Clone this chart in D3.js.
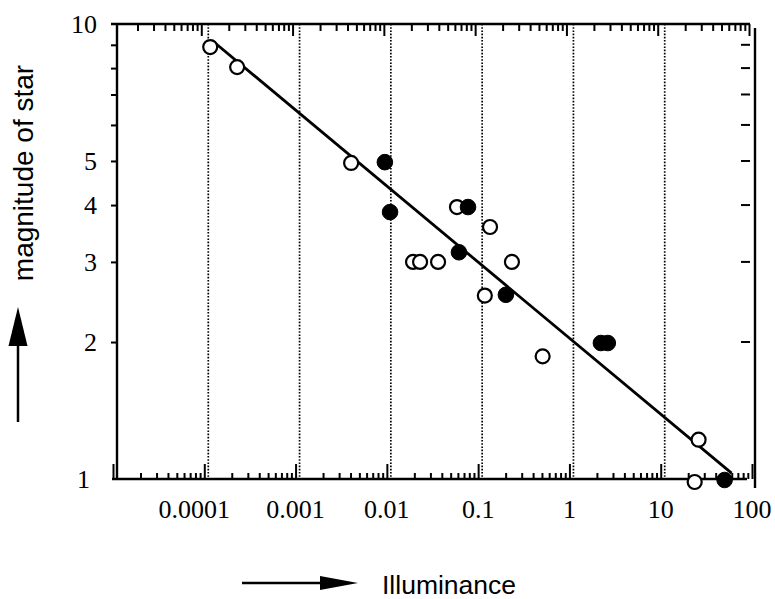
<!DOCTYPE html>
<html>
<head>
<meta charset="utf-8">
<script src="https://cdn.jsdelivr.net/npm/d3@7"></script>
<style>
  html, body { margin: 0; padding: 0; background: #fff; }
  svg { display: block; }
</style>
</head>
<body>
<svg id="chart" width="775" height="599"></svg>
<script>
// ---- data ----
const openX = [0.000105, 0.000207, 0.00367, 0.053, 0.122, 0.0175, 0.0209, 0.0329, 0.212, 0.107, 0.46, 23.5, 21.3];
const openY = [8.9, 8.04, 4.95, 3.96, 3.58, 3.0, 3.0, 3.0, 3.0, 2.53, 1.86, 1.22, 0.985];
const filledX = [0.0086, 0.0098, 0.070, 0.0557, 0.182, 2.0, 2.38, 45.3];
const filledY = [4.97, 3.86, 3.96, 3.15, 2.54, 1.99, 1.99, 0.995];
const fitX = [0.00011, 54];
const fitY = [9.2, 1.03];
const xTickValues = [0.0001, 0.001, 0.01, 0.1, 1, 10, 100];
const xTickLabels = ["0.0001", "0.001", "0.01", "0.1", "1", "10", "100"];
const yTickValues = [1, 2, 3, 4, 5, 10];
const yTickLabels = ["1", "2", "3", "4", "5", "10"];
const gridValues = [0.0001, 0.001, 0.01, 0.1, 1, 10];
const xTitle = "Illuminance";
const yTitle = "magnitude of star";

// ---- layout ----
const L = 117, R = 756, T = 24, B = 479;
const svg = d3.select("#chart");
const x = d3.scaleLog().domain([1e-5, 100]).range([L, R]);
const y = d3.scaleLog().domain([1, 10]).range([B, T]);

const minorX = [];
for (let d = -5; d <= 1; d++) for (let k = 2; k <= 9; k++) minorX.push(k * Math.pow(10, d));
const majorX = [];
for (let d = -5; d <= 2; d++) majorX.push(Math.pow(10, d));
const minorY = [2, 3, 4, 5, 6, 7, 8, 9];

function styleAxis(g) {
  g.select(".domain").remove();
  g.selectAll(".tick line").attr("stroke", "#000").attr("stroke-width", 2);
  g.selectAll(".tick text").remove();
}

// dotted gridlines
svg.append("g").selectAll("line").data(gridValues).join("line")
  .attr("x1", d => x(d)).attr("x2", d => x(d))
  .attr("y1", T).attr("y2", B)
  .attr("stroke", "#000").attr("stroke-width", 1.7)
  .attr("stroke-dasharray", "1.6,1.6");

// frame lines
const frame = svg.append("g").attr("stroke", "#000").attr("stroke-width", 2.4);
frame.append("line").attr("x1", L).attr("x2", L).attr("y1", T).attr("y2", B);
frame.append("line").attr("x1", L - 6).attr("x2", R - 6).attr("y1", T).attr("y2", T);
frame.append("line").attr("x1", L - 5).attr("x2", R - 9).attr("y1", B).attr("y2", B);
frame.append("line").attr("x1", R - 1).attr("x2", R - 1).attr("y1", T + 4).attr("y2", B + 9);

// bottom ticks (pointing up)
svg.append("g").attr("transform", `translate(-4,${B})`)
  .call(d3.axisTop(x).tickValues(minorX).tickSize(6).tickFormat(""))
  .call(styleAxis);
svg.append("g").attr("transform", `translate(-4,${B})`)
  .call(d3.axisTop(x).tickValues(majorX).tickSize(15).tickFormat(""))
  .call(styleAxis);

// top ticks (pointing down)
svg.append("g").attr("transform", `translate(-7,${T})`)
  .call(d3.axisBottom(x).tickValues(minorX).tickSize(7).tickFormat(""))
  .call(styleAxis);
svg.append("g").attr("transform", `translate(-7,${T})`)
  .call(d3.axisBottom(x).tickValues(majorX.slice(1)).tickSize(12).tickFormat(""))
  .call(styleAxis);

// left ticks (outward)
svg.append("g").attr("transform", `translate(${L},0)`)
  .call(d3.axisLeft(y).tickValues(minorY).tickSize(6).tickFormat(""))
  .call(styleAxis);

// right ticks (detached, inside)
svg.append("g").selectAll("line").data(minorY).join("line")
  .attr("x1", R - 15).attr("x2", R - 6)
  .attr("y1", d => y(d)).attr("y2", d => y(d))
  .attr("stroke", "#000").attr("stroke-width", 2);

// x tick labels
svg.append("g").selectAll("text").data(xTickValues).join("text")
  .attr("x", (d, i) => x(d) - (i === 0 ? 14 : 4))
  .attr("y", 518)
  .attr("text-anchor", "middle")
  .attr("font-family", "'Liberation Serif', 'Times New Roman', serif")
  .attr("font-size", 26)
  .attr("fill", "#000")
  .text((d, i) => xTickLabels[i]);

// y tick labels
svg.append("g").selectAll("text").data(yTickValues).join("text")
  .attr("x", d => d === 1 ? 90 : 97)
  .attr("y", d => y(d) + 9)
  .attr("text-anchor", "end")
  .attr("font-family", "'Liberation Serif', 'Times New Roman', serif")
  .attr("font-size", 26)
  .attr("fill", "#000")
  .text((d, i) => yTickLabels[i]);

// regression line
const line = d3.line().x(d => x(d[0])).y(d => y(d[1]));
svg.append("path")
  .datum(fitX.map((v, i) => [v, fitY[i]]))
  .attr("d", line)
  .attr("fill", "none").attr("stroke", "#000").attr("stroke-width", 2.8);

// open circles
svg.append("g").selectAll("circle").data(openX.map((v, i) => [v, openY[i]])).join("circle")
  .attr("cx", d => x(d[0])).attr("cy", d => y(d[1])).attr("r", 7)
  .attr("fill", "#fff").attr("stroke", "#000").attr("stroke-width", 2.2);

// filled circles
svg.append("g").selectAll("circle").data(filledX.map((v, i) => [v, filledY[i]])).join("circle")
  .attr("cx", d => x(d[0])).attr("cy", d => y(d[1])).attr("r", 7.8)
  .attr("fill", "#000").attr("stroke", "#000").attr("stroke-width", 1);

// axis titles with arrows
svg.append("text")
  .attr("transform", "translate(33,173) rotate(-90)")
  .attr("text-anchor", "middle")
  .attr("font-family", "'Liberation Sans', Arial, sans-serif")
  .attr("font-size", 28)
  .attr("fill", "#000")
  .text(yTitle);

svg.append("text")
  .attr("x", 382).attr("y", 594)
  .attr("font-family", "'Liberation Sans', Arial, sans-serif")
  .attr("font-size", 26.5)
  .attr("fill", "#000")
  .text(xTitle);

// arrows
svg.append("line").attr("x1", 18).attr("x2", 18).attr("y1", 422).attr("y2", 340)
  .attr("stroke", "#000").attr("stroke-width", 2.5);
svg.append("path").attr("d", "M18,307 L27.5,346 L8.5,346 Z").attr("fill", "#000");

svg.append("line").attr("x1", 242).attr("x2", 325).attr("y1", 583).attr("y2", 583)
  .attr("stroke", "#000").attr("stroke-width", 2.5);
svg.append("path").attr("d", "M358,583 L320,576 L320,590 Z").attr("fill", "#000");
</script>
</body>
</html>
